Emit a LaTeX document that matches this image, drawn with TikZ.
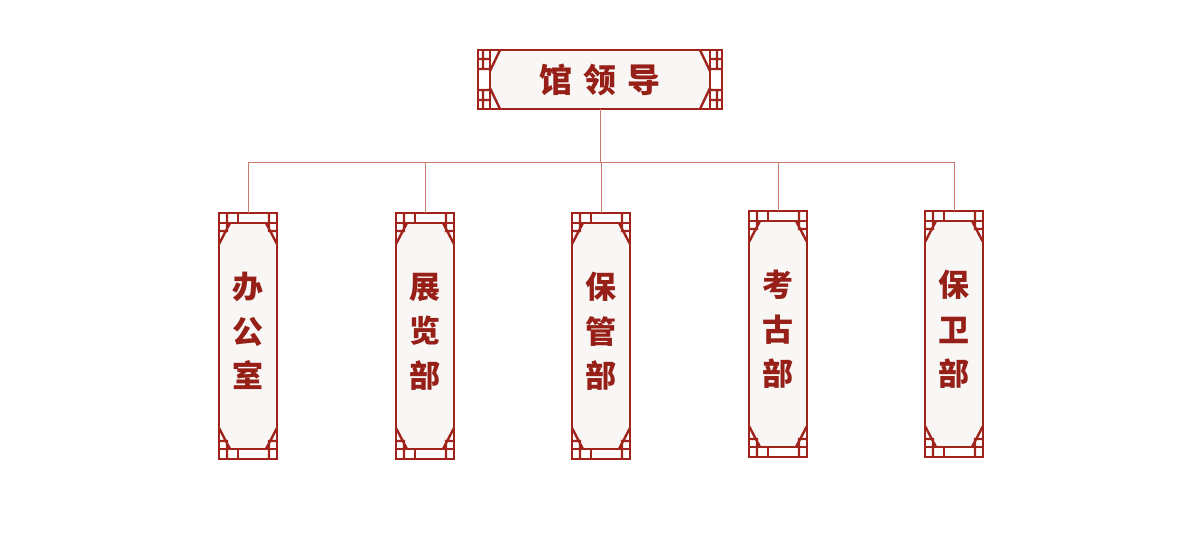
\documentclass[tikz,border=0pt]{standalone}
\usepackage{fontspec}
\newfontfamily\cjk{Noto Sans CJK SC}
\definecolor{frameRed}{RGB}{160, 36, 28}
\definecolor{inkRed}{RGB}{150, 32, 24}
\definecolor{linkRed}{RGB}{205, 122, 112}
\definecolor{paper}{RGB}{249, 247, 245}
\usetikzlibrary{positioning, calc, backgrounds}

\begin{document}
\begin{tikzpicture}[
    x=1pt, y=-1pt,
    frame/.style={draw=frameRed, line width=2.4pt},
    link/.style={draw=linkRed, line width=1pt},
    dept/.style={rectangle, frame, minimum width=58pt, minimum height=246pt,
                 inner sep=0pt, outer sep=0pt, align=center, text=inkRed,
                 text depth=12pt,
                 font=\cjk\bfseries\fontsize{31}{44.5}\selectfont},
    lead/.style={rectangle, frame, minimum width=244pt, minimum height=59pt,
                 inner sep=0pt, outer sep=0pt, text=inkRed,
                 font=\cjk\bfseries\fontsize{33}{38}\selectfont},
  ]
    \useasboundingbox (0,0) rectangle (1200,557);

    \node[lead] (LEAD) at (600,79.5) {馆\hspace{11pt}领\hspace{11pt}导};

    \node[dept] (CUSTODY) at (601,336) {保\\管\\部};
    \node[dept, left=118pt of CUSTODY] (EXHIBIT) {展\\览\\部};
    \node[dept, left=119pt of EXHIBIT] (OFFICE) {办\\公\\室};
    \node[dept, right=119pt of CUSTODY, yshift=2pt] (ARCHAEO) {考\\古\\部};
    \node[dept, right=118pt of ARCHAEO] (SECURITY) {保\\卫\\部};

    % lattice corners of the department panels
    \foreach \d in {OFFICE, EXHIBIT, CUSTODY, ARCHAEO, SECURITY} {
      \begin{scope}[on background layer]
        \fill[paper] ($(\d.north west)+(11,10)$) -- ($(\d.north east)+(-11,10)$)
          -- ($(\d.north east)+(0,31)$) -- ($(\d.south east)+(0,-31)$)
          -- ($(\d.south east)+(-11,-10)$) -- ($(\d.south west)+(11,-10)$)
          -- ($(\d.south west)+(0,-31)$) -- ($(\d.north west)+(0,31)$) -- cycle;
      \end{scope}
      \draw[frame] ($(\d.north west)+(0,10)$) -- ($(\d.north east)+(0,10)$)
                   ($(\d.south west)+(0,-10)$) -- ($(\d.south east)+(0,-10)$)
                   ($(\d.north west)+(19,0)$) -- ++(0,10)
                   ($(\d.south west)+(19,0)$) -- ++(0,-10);
      \foreach \c/\sx/\sy in {north west/1/1, north east/-1/1, south west/1/-1, south east/-1/-1}
        \draw[frame] ($(\d.\c)+(\sx*8,0)$) -- ++(0,\sy*18) -- ++(-\sx*8,0)
                     ($(\d.\c)+(\sx*11,\sy*10)$) -- ($(\d.\c)+(0,\sy*31)$);
    }

    % lattice corners of the head panel
    \begin{scope}[on background layer]
      \fill[paper] ($(LEAD.north west)+(22,0)$) -- ($(LEAD.north east)+(-22,0)$)
        -- ($(LEAD.north east)+(-12,21)$) -- ($(LEAD.south east)+(-12,-21)$)
        -- ($(LEAD.south east)+(-22,0)$) -- ($(LEAD.south west)+(22,0)$)
        -- ($(LEAD.south west)+(12,-21)$) -- ($(LEAD.north west)+(12,21)$) -- cycle;
    \end{scope}
    \draw[frame] ($(LEAD.north west)+(12,0)$) -- ($(LEAD.south west)+(12,0)$)
                 ($(LEAD.north east)+(-12,0)$) -- ($(LEAD.south east)+(-12,0)$);
    \foreach \c/\sx/\sy in {north west/1/1, north east/-1/1, south west/1/-1, south east/-1/-1}
      \draw[frame] ($(LEAD.\c)+(0,\sy*9)$) -- ++(\sx*12,0)
                   ($(LEAD.\c)+(0,\sy*19)$) -- ++(\sx*12,0)
                   ($(LEAD.\c)+(\sx*5,0)$) -- ++(0,\sy*19)
                   ($(LEAD.\c)+(\sx*22,0)$) -- ($(LEAD.\c)+(\sx*12,\sy*21)$);

    \coordinate (BUS) at (600,162);
    \draw[link] (LEAD.south) -- (BUS);
    \foreach \d in {OFFICE, EXHIBIT, CUSTODY, ARCHAEO, SECURITY}
      \draw[link] (BUS) -| (\d.north);
  \end{tikzpicture}
\end{document}
